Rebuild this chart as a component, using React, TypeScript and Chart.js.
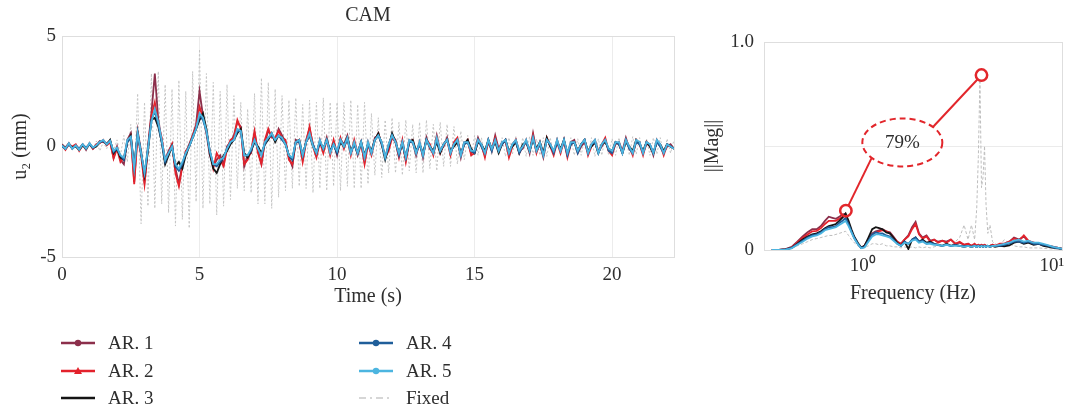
import React, { useEffect, useRef } from 'react';
import { Chart, registerables } from 'chart.js';
Chart.register(...registerables);

// ---------- time domain (sampled every TIME_STEP seconds) ----------
const TIME_STEP = 0.125;
const AR1 = [
  0.1,-0.05,0.15,-0.1,0.05,-0.1,0.1,-0.15,
  0.15,-0.1,0.05,0.25,0.2,0.15,0.25,-0.5,
  0.0,-0.6,-0.8,0.3,0.6,-1.6,0.7,-0.2,
  -1.6,0.0,1.5,3.3,1.2,0.3,-0.6,-0.2,
  0.1,-1.0,-1.7,-0.8,-0.3,0.1,0.5,1.0,
  2.5,1.4,0.6,-0.4,-0.9,-0.6,-0.4,-0.8,
  0.0,0.2,0.5,1.1,0.9,-0.9,-0.4,-0.3,
  0.6,-0.2,-0.8,0.2,0.7,0.5,0.3,0.8,
  0.5,0.2,-0.5,-0.9,0.3,0.2,-0.6,0.3,
  0.8,0.1,-0.4,0.3,-0.2,0.4,-0.3,0.2,
  -0.4,0.3,0.1,0.5,-0.3,0.2,-0.4,0.1,
  -0.7,0.2,-0.3,0.4,0.5,0.2,-0.5,0.1,
  0.5,0.3,-0.4,0.2,-0.6,0.3,0.2,-0.4,
  0.2,-0.5,0.4,-0.1,-0.3,0.5,-0.2,0.0,
  0.4,-0.3,0.1,0.3,-0.5,0.2,0.2,-0.3,
  -0.2,0.4,0.0,-0.4,0.2,-0.2,0.5,-0.1,
  0.2,0.2,-0.4,0.1,0.3,-0.2,-0.1,0.3,
  -0.3,0.6,-0.2,0.1,-0.5,0.3,0.1,-0.3,
  0.3,-0.2,0.2,-0.4,0.2,0.3,-0.3,0.0,
  0.2,-0.3,0.1,0.3,-0.2,0.0,0.3,-0.2,
  -0.3,0.1,0.2,-0.2,0.4,-0.1,-0.3,0.2,
  0.2,-0.3,0.1,0.1,-0.4,0.3,0.0,-0.3,
  0.0,0.1,-0.1
];
const AR2 = [
  0.05,-0.15,0.1,0.0,0.1,-0.2,0.05,-0.05,
  0.1,-0.1,0.1,0.15,0.3,0.05,0.2,-0.55,
  -0.1,-0.7,-0.5,0.2,0.5,-1.7,0.5,-0.4,
  -1.7,-0.1,1.4,2.0,1.0,0.4,-0.7,-0.3,
  0.1,-1.2,-1.8,-0.9,-0.2,0.0,0.5,0.9,
  1.8,1.3,0.7,-0.2,-1.0,-0.3,-0.6,-0.9,
  -0.1,0.3,0.4,1.2,0.8,-0.8,-0.6,-0.2,
  0.7,-0.3,-0.8,0.3,0.8,0.4,0.4,0.7,
  0.4,0.3,-0.6,-0.8,0.2,0.3,-0.7,0.2,
  0.9,0.0,-0.5,0.2,-0.3,0.3,-0.4,0.3,
  -0.3,0.4,-0.1,0.4,-0.4,0.3,-0.3,0.2,
  -0.8,0.1,-0.4,0.3,0.6,0.1,-0.5,-0.2,
  0.4,0.2,-0.5,0.3,-0.7,0.2,0.3,-0.3,
  0.1,-0.4,0.3,0.1,-0.4,0.4,-0.3,0.1,
  0.3,-0.4,0.2,0.4,-0.4,0.1,0.3,-0.4,
  -0.3,0.3,0.1,-0.5,0.3,-0.1,0.4,-0.2,
  0.1,0.3,-0.5,0.0,0.3,-0.3,0.0,0.2,
  -0.2,0.5,-0.3,0.2,-0.4,0.4,0.0,-0.4,
  0.2,-0.3,0.3,-0.5,0.1,0.2,-0.2,0.1,
  0.3,-0.4,0.0,0.2,-0.3,0.1,0.4,-0.2,
  -0.4,0.2,0.1,-0.3,0.3,0.0,-0.4,0.3,
  0.1,-0.4,0.2,0.0,-0.3,0.2,0.1,-0.4,
  0.1,0.0,-0.1
];
const AR3 = [
  0.05,-0.1,0.1,-0.05,0.0,-0.15,0.05,-0.1,
  0.1,-0.05,0.0,0.2,0.25,0.1,0.3,-0.3,
  -0.1,-0.5,-0.6,0.2,0.5,-0.9,0.6,-0.3,
  -1.3,-0.2,1.2,1.3,0.9,0.2,-0.8,-0.4,
  0.0,-0.9,-0.7,-1.0,-0.4,0.0,0.4,0.8,
  1.2,1.5,0.8,-0.3,-1.0,-1.2,-0.8,-0.4,
  -0.2,0.1,0.3,0.6,0.8,-0.3,-0.5,-0.2,
  0.2,0.0,-0.3,0.1,0.3,0.6,0.2,0.5,
  0.4,0.1,-0.4,-0.6,0.2,0.3,-0.4,0.2,
  0.5,0.0,-0.3,0.2,-0.1,0.3,-0.2,0.1,
  -0.3,0.2,0.0,0.4,-0.2,0.1,-0.3,0.2,
  -0.4,0.1,-0.2,0.3,0.6,0.1,-0.6,0.0,
  0.6,0.2,-0.3,0.1,-0.5,0.2,0.3,-0.2,
  0.1,-0.3,0.3,0.0,-0.2,0.2,-0.3,0.1,
  0.3,-0.2,0.0,0.2,-0.3,0.1,0.3,-0.1,
  -0.3,0.2,0.1,-0.2,0.3,-0.1,0.2,-0.3,
  0.1,0.3,-0.2,0.0,0.2,-0.3,0.1,0.2,
  -0.2,0.3,-0.1,0.2,-0.3,0.4,0.0,-0.2,
  0.2,-0.1,0.3,-0.3,0.1,0.2,-0.2,0.1,
  0.3,-0.2,0.0,0.2,-0.3,0.1,0.2,-0.1,
  -0.2,0.2,0.1,-0.3,0.2,0.0,-0.2,0.3,
  0.1,-0.2,0.2,0.0,-0.3,0.2,0.1,-0.2,
  0.1,0.0,-0.1
];
const AR4 = [
  0.0,-0.1,0.1,-0.1,0.05,-0.1,0.1,-0.05,
  0.1,-0.05,0.05,0.2,0.25,0.1,0.25,-0.25,
  -0.1,-0.4,-0.6,0.2,0.4,-0.9,0.6,-0.3,
  -1.2,-0.1,1.2,1.6,1.0,0.2,-0.7,-0.3,
  0.0,-0.9,-1.1,-0.8,-0.3,0.0,0.4,0.8,
  1.4,1.2,0.7,-0.2,-0.8,-0.9,-0.7,-0.5,
  -0.1,0.2,0.3,0.7,0.7,-0.4,-0.4,-0.2,
  0.3,-0.1,-0.4,0.1,0.4,0.5,0.3,0.5,
  0.3,0.1,-0.4,-0.6,0.2,0.2,-0.4,0.2,
  0.5,0.1,-0.3,0.2,-0.1,0.3,-0.2,0.1,
  -0.3,0.3,0.0,0.3,-0.3,0.1,-0.3,0.2,
  -0.5,0.1,-0.3,0.3,0.5,0.1,-0.5,0.0,
  0.5,0.2,-0.4,0.2,-0.5,0.2,0.2,-0.3,
  0.1,-0.4,0.3,0.0,-0.3,0.3,-0.2,0.1,
  0.3,-0.3,0.1,0.3,-0.4,0.1,0.2,-0.2,
  -0.3,0.3,0.0,-0.3,0.3,-0.2,0.3,-0.2,
  0.1,0.3,-0.3,0.1,0.2,-0.3,0.0,0.2,
  -0.2,0.4,-0.2,0.1,-0.4,0.3,0.1,-0.3,
  0.2,-0.2,0.3,-0.4,0.1,0.2,-0.3,0.1,
  0.3,-0.3,0.1,0.2,-0.3,0.1,0.3,-0.2,
  -0.3,0.2,0.1,-0.3,0.3,-0.1,-0.3,0.2,
  0.1,-0.3,0.2,0.1,-0.3,0.2,0.0,-0.3,
  0.1,0.0,-0.1
];
const AR5 = [
  0.05,-0.1,0.15,-0.1,0.05,-0.15,0.1,-0.1,
  0.15,-0.05,0.05,0.2,0.3,0.1,0.25,-0.2,
  -0.05,-0.4,-0.5,0.3,0.45,-1.0,0.6,-0.3,
  -1.2,-0.1,1.1,1.7,1.1,0.3,-0.6,-0.3,
  0.0,-0.8,-1.0,-0.7,-0.3,0.0,0.4,0.8,
  1.5,1.3,0.7,-0.2,-0.8,-0.8,-0.6,-0.5,
  -0.1,0.2,0.3,0.8,0.7,-0.4,-0.4,-0.1,
  0.3,-0.1,-0.4,0.2,0.4,0.6,0.3,0.5,
  0.4,0.1,-0.4,-0.5,0.2,0.3,-0.4,0.2,
  0.6,0.0,-0.3,0.3,-0.1,0.3,-0.3,0.1,
  -0.2,0.3,0.0,0.4,-0.3,0.2,-0.3,0.2,
  -0.5,0.2,-0.3,0.3,0.5,0.2,-0.5,0.1,
  0.5,0.2,-0.3,0.2,-0.5,0.3,0.2,-0.3,
  0.2,-0.4,0.3,0.0,-0.3,0.4,-0.2,0.1,
  0.3,-0.3,0.1,0.3,-0.4,0.2,0.2,-0.2,
  -0.2,0.3,0.1,-0.3,0.3,-0.1,0.3,-0.2,
  0.2,0.3,-0.3,0.1,0.3,-0.2,0.0,0.3,
  -0.2,0.4,-0.2,0.2,-0.4,0.3,0.1,-0.2,
  0.3,-0.2,0.3,-0.3,0.2,0.2,-0.2,0.1,
  0.3,-0.3,0.1,0.3,-0.3,0.1,0.3,-0.1,
  -0.2,0.2,0.2,-0.3,0.3,0.0,-0.3,0.3,
  0.2,-0.3,0.2,0.1,-0.3,0.3,0.1,-0.3,
  0.1,0.0,-0.1
];
const FIXED = [
  0.15,-0.1,0.2,-0.15,0.1,-0.2,0.15,-0.1,
  0.2,-0.15,0.25,-0.2,0.2,-0.1,0.3,-0.2,
  0.3,-0.4,0.5,-0.7,1.0,-1.5,2.4,-3.5,
  2.0,-2.7,3.3,-2.8,3.4,-2.6,2.8,-3.0,
  2.6,-3.6,3.0,-3.3,2.5,-3.7,3.4,-2.5,
  4.4,-2.8,3.3,-2.6,2.9,-3.1,2.5,-2.7,
  2.8,-2.4,2.3,-1.9,2.0,-2.0,1.7,-2.1,
  2.4,-2.6,3.1,-2.6,2.9,-2.8,2.6,-2.3,
  2.3,-2.0,2.1,-1.9,2.2,-1.8,1.9,-1.9,
  2.1,-2.1,2.0,-1.9,2.2,-2.0,2.0,-1.8,
  2.0,-2.0,2.0,-1.8,2.1,-1.9,1.9,-1.9,
  2.0,-1.7,1.5,-1.3,1.3,-1.4,1.2,-1.2,
  1.3,-1.2,1.1,-1.3,1.2,-1.1,1.0,-1.2,
  1.1,-1.2,1.2,-1.0,1.0,-1.1,1.1,-0.9,
  1.0,-0.9,0.9,-0.8,0.7,-0.6,0.5,-0.5,
  0.5,-0.4,0.4,-0.5,0.4,-0.4,0.5,-0.4,
  0.4,-0.45,0.4,-0.35,0.45,-0.4,0.4,-0.45,
  0.45,-0.4,0.35,-0.4,0.4,-0.45,0.4,-0.35,
  0.4,-0.4,0.45,-0.35,0.4,-0.4,0.35,-0.4,
  0.4,-0.35,0.4,-0.45,0.35,-0.4,0.4,-0.4,
  0.35,-0.4,0.4,-0.35,0.4,-0.4,0.45,-0.35,
  0.4,-0.4,0.35,-0.4,0.4,-0.35,0.4,-0.4,
  0.35,-0.3,0.3
];
const TIME = FIXED.map((_, i) => i * TIME_STEP);
const TIME_TICKS = [0, 5, 10, 15, 20];

// ---------- frequency domain ----------
const FREQ = [
  0.33,0.36,0.39,0.42,0.45,0.48,0.51,0.54,0.57,0.6,
  0.63,0.66,0.69,0.72,0.75,0.78,0.81,0.84,0.87,0.9,
  0.94,0.98,1.02,1.07,1.12,1.17,1.22,1.27,1.33,1.39,
  1.45,1.52,1.59,1.66,1.74,1.82,1.9,1.98,2.07,2.17,
  2.27,2.38,2.5,2.63,2.77,2.92,3.08,3.25,3.43,3.6,
  3.75,3.9,4.0,4.08,4.16,4.24,4.32,4.4,4.48,4.58,
  4.7,4.85,5.0,5.3,5.6,5.95,6.3,6.7,7.1,7.5,
  8.0,8.5,9.0,9.6,10.2,10.8,11.3
];
const MAG_AR1 = [
  0,0,0.004,0.015,0.04,0.065,0.085,0.1,0.1,0.115,
  0.14,0.16,0.155,0.15,0.16,0.17,0.175,0.13,0.09,0.06,
  0.03,0.01,0.02,0.05,0.08,0.09,0.095,0.1,0.09,0.085,
  0.065,0.04,0.03,0.05,0.07,0.11,0.135,0.08,0.06,0.07,
  0.045,0.05,0.04,0.045,0.04,0.05,0.03,0.035,0.025,0.03,
  0.02,0.025,0.02,0.025,0.02,0.025,0.02,0.025,0.02,0.02,
  0.02,0.025,0.02,0.025,0.03,0.04,0.06,0.05,0.065,0.04,
  0.035,0.03,0.025,0.02,0.015,0.01,0.006
];
const MAG_AR2 = [
  0,0,0.003,0.012,0.035,0.058,0.075,0.09,0.092,0.105,
  0.125,0.14,0.14,0.14,0.15,0.16,0.165,0.125,0.09,0.06,
  0.03,0.01,0.02,0.05,0.075,0.085,0.09,0.095,0.09,0.08,
  0.06,0.04,0.03,0.05,0.065,0.1,0.125,0.075,0.055,0.065,
  0.04,0.05,0.035,0.045,0.035,0.05,0.03,0.04,0.025,0.03,
  0.02,0.03,0.02,0.025,0.02,0.025,0.02,0.025,0.02,0.02,
  0.02,0.025,0.02,0.03,0.03,0.04,0.055,0.045,0.07,0.045,
  0.035,0.03,0.025,0.02,0.015,0.01,0.006
];
const MAG_AR3 = [
  0,0,0.003,0.01,0.03,0.05,0.065,0.075,0.08,0.09,
  0.105,0.115,0.12,0.125,0.14,0.155,0.175,0.14,0.1,0.065,
  0.035,0.012,0.02,0.06,0.1,0.11,0.105,0.1,0.085,0.08,
  0.06,0.035,0.02,0.04,0.005,0.05,0.06,0.04,0.05,0.035,
  0.04,0.03,0.025,0.02,0.03,0.02,0.025,0.02,0.015,0.02,
  0.015,0.02,0.015,0.02,0.015,0.02,0.015,0.02,0.015,0.02,
  0.015,0.02,0.015,0.02,0.018,0.022,0.035,0.04,0.03,0.035,
  0.025,0.03,0.02,0.015,0.01,0.008,0.005
];
const MAG_AR4 = [
  0,0,0.003,0.01,0.028,0.045,0.06,0.07,0.075,0.085,
  0.1,0.11,0.11,0.115,0.13,0.14,0.155,0.125,0.09,0.06,
  0.03,0.01,0.015,0.045,0.075,0.085,0.08,0.08,0.07,0.065,
  0.05,0.03,0.02,0.04,0.03,0.05,0.06,0.04,0.045,0.03,
  0.035,0.03,0.025,0.02,0.025,0.02,0.025,0.02,0.018,0.02,
  0.015,0.02,0.015,0.02,0.015,0.02,0.015,0.02,0.015,0.02,
  0.015,0.02,0.02,0.02,0.025,0.03,0.04,0.04,0.035,0.04,
  0.03,0.03,0.025,0.02,0.012,0.008,0.005
];
const MAG_AR5 = [
  0,0,0.002,0.008,0.025,0.04,0.055,0.065,0.07,0.08,
  0.095,0.1,0.105,0.11,0.12,0.13,0.14,0.115,0.085,0.055,
  0.028,0.008,0.012,0.04,0.065,0.075,0.075,0.07,0.065,0.06,
  0.045,0.03,0.02,0.035,0.03,0.045,0.05,0.035,0.04,0.03,
  0.03,0.025,0.025,0.02,0.025,0.02,0.02,0.02,0.015,0.02,
  0.015,0.02,0.015,0.02,0.015,0.02,0.015,0.02,0.015,0.02,
  0.015,0.02,0.02,0.025,0.03,0.035,0.045,0.05,0.04,0.045,
  0.035,0.035,0.03,0.022,0.015,0.01,0.006
];
const MAG_FIXED = [
  0,0,0.002,0.008,0.02,0.03,0.04,0.05,0.055,0.06,
  0.065,0.07,0.07,0.075,0.08,0.085,0.09,0.07,0.05,0.035,
  0.02,0.01,0.012,0.02,0.03,0.03,0.025,0.03,0.02,0.02,
  0.015,0.015,0.01,0.015,0.01,0.015,0.01,0.015,0.01,0.015,
  0.01,0.015,0.02,0.02,0.025,0.02,0.04,0.06,0.12,0.05,
  0.12,0.05,0.2,0.45,0.82,0.3,0.35,0.5,0.22,0.08,
  0.12,0.04,0.03,0.02,0.05,0.03,0.02,0.015,0.015,0.01,
  0.01,0.01,0.008,0.006,0.005,0.004,0.003
];
// annotation anchors (data coordinates: [Hz, |Mag|])
const PEAK_AR = [0.813, 0.189];
const PEAK_FIXED = [4.24, 0.841];
const RATIO_LABEL_AT = [1.617, 0.517];
const RATIO_LABEL = '79%';

const SERIES = [
  { label: 'AR. 1', color: '#8c2f4b', marker: 'circle', t: AR1, f: MAG_AR1, order: 5 },
  { label: 'AR. 2', color: '#e3222c', marker: 'triangle', t: AR2, f: MAG_AR2, order: 4 },
  { label: 'AR. 3', color: '#141414', marker: 'none', t: AR3, f: MAG_AR3, order: 3 },
  { label: 'AR. 4', color: '#1f5e9a', marker: 'circle', t: AR4, f: MAG_AR4, order: 2 },
  { label: 'AR. 5', color: '#4cb5e0', marker: 'circle', t: AR5, f: MAG_AR5, order: 1 },
];
const FIXED_STYLE = { label: 'Fixed', color: '#c4c4c4' };

const FONT = '"Liberation Serif", "Times New Roman", serif';
const TXT = '#2e2e2e';

const boxPlugin = {
  id: 'box',
  beforeDatasetsDraw(chart: any) {
    const { ctx, chartArea: a } = chart;
    ctx.save();
    ctx.strokeStyle = '#dedede';
    ctx.lineWidth = 1;
    ctx.strokeRect(Math.round(a.left) + 0.5, Math.round(a.top) + 0.5, Math.round(a.right - a.left), Math.round(a.bottom - a.top));
    ctx.restore();
  },
};

const legendPlugin = {
  id: 'customLegend',
  afterDraw(chart: any) {
    const { ctx } = chart;
    const items = [
      ...SERIES.map((s) => ({ label: s.label, color: s.color, marker: s.marker, dash: [] as number[], width: 2.5 })),
      { label: FIXED_STYLE.label, color: '#d6d6d6', marker: 'none', dash: [7, 4, 2, 4], width: 2 },
    ];
    const cols = [61, 359];
    const rows = [343, 371, 398];
    ctx.save();
    items.forEach((it, i) => {
      const x = cols[Math.floor(i / 3)];
      const y = rows[i % 3];
      ctx.strokeStyle = it.color;
      ctx.lineWidth = it.width;
      ctx.setLineDash(it.dash);
      ctx.beginPath();
      ctx.moveTo(x, y);
      ctx.lineTo(x + 34, y);
      ctx.stroke();
      ctx.setLineDash([]);
      ctx.fillStyle = it.color;
      const cx = x + 17;
      if (it.marker === 'circle') {
        ctx.beginPath();
        ctx.arc(cx, y, 3.2, 0, Math.PI * 2);
        ctx.fill();
      } else if (it.marker === 'triangle') {
        ctx.beginPath();
        ctx.moveTo(cx, y - 4);
        ctx.lineTo(cx + 4, y + 3);
        ctx.lineTo(cx - 4, y + 3);
        ctx.closePath();
        ctx.fill();
      }
      ctx.fillStyle = TXT;
      ctx.font = `19px ${FONT}`;
      ctx.textBaseline = 'middle';
      ctx.textAlign = 'left';
      ctx.fillText(it.label, x + 47, y + 1);
    });
    ctx.restore();
  },
};

const annotationPlugin = {
  id: 'ratioAnnotation',
  afterDatasetsDraw(chart: any) {
    const { ctx, scales } = chart;
    const xs = scales.x, ys = scales.y;
    const c1 = { x: xs.getPixelForValue(PEAK_AR[0]), y: ys.getPixelForValue(PEAK_AR[1]) };
    const c2 = { x: xs.getPixelForValue(PEAK_FIXED[0]), y: ys.getPixelForValue(PEAK_FIXED[1]) };
    const e = { x: xs.getPixelForValue(RATIO_LABEL_AT[0]), y: ys.getPixelForValue(RATIO_LABEL_AT[1]) };
    const rx = 40, ry = 24, r = 5.7;
    const ang1 = (140 * Math.PI) / 180, ang2 = (-40 * Math.PI) / 180;
    const a1 = { x: e.x + rx * Math.cos(ang1), y: e.y + ry * Math.sin(ang1) };
    const a2 = { x: e.x + rx * Math.cos(ang2), y: e.y + ry * Math.sin(ang2) };
    const red = '#e2262b';
    const seg = (from: any, to: any) => {
      const dx = to.x - from.x, dy = to.y - from.y;
      const len = Math.hypot(dx, dy);
      ctx.beginPath();
      ctx.moveTo(from.x + (dx / len) * r, from.y + (dy / len) * r);
      ctx.lineTo(to.x, to.y);
      ctx.stroke();
    };
    ctx.save();
    ctx.strokeStyle = red;
    ctx.lineWidth = 2;
    seg(c1, a1);
    seg(c2, a2);
    ctx.lineWidth = 2.5;
    [c1, c2].forEach((c) => {
      ctx.beginPath();
      ctx.arc(c.x, c.y, r, 0, Math.PI * 2);
      ctx.stroke();
    });
    ctx.lineWidth = 2;
    ctx.setLineDash([6, 4]);
    ctx.beginPath();
    ctx.ellipse(e.x, e.y, rx, ry, 0, 0, Math.PI * 2);
    ctx.stroke();
    ctx.setLineDash([]);
    ctx.fillStyle = TXT;
    ctx.font = `19px ${FONT}`;
    ctx.textAlign = 'center';
    ctx.textBaseline = 'middle';
    ctx.fillText(RATIO_LABEL, e.x, e.y + 1);
    ctx.restore();
  },
};

export default function App() {
  const leftRef = useRef<HTMLCanvasElement>(null);
  const rightRef = useRef<HTMLCanvasElement>(null);

  useEffect(() => {
    const tick = { family: FONT, size: 19 };
    const ttl = { family: FONT, size: 20 };

    const timeDatasets: any[] = SERIES.map((s) => ({
      label: s.label,
      data: TIME.map((t, i) => ({ x: t, y: s.t[i] })),
      borderColor: s.color,
      borderWidth: 1.8,
      pointRadius: 0,
      tension: 0,
      order: s.order,
    }));
    timeDatasets.push({
      label: FIXED_STYLE.label,
      data: TIME.map((t, i) => ({ x: t, y: FIXED[i] })),
      borderColor: FIXED_STYLE.color,
      borderWidth: 1,
      borderDash: [2, 2],
      pointRadius: 0,
      tension: 0,
      order: 10,
    });

    const left = new Chart(leftRef.current!, {
      type: 'line',
      data: { datasets: timeDatasets },
      options: {
        animation: false,
        responsive: false,
        devicePixelRatio: 1,
        layout: { padding: { left: 0, right: 26, top: 0, bottom: 108 } },
        plugins: {
          legend: { display: false },
          tooltip: { enabled: false },
          title: {
            display: true,
            text: 'CAM',
            fullSize: false,
            color: TXT,
            font: { family: FONT, size: 20, weight: 'normal' },
            padding: { top: 4, bottom: 8 },
          },
        },
        scales: {
          x: {
            type: 'linear',
            min: 0,
            max: 22.25,
            afterFit: (s: any) => { s.height = 52; },
            afterBuildTicks: (s: any) => { s.ticks = TIME_TICKS.map((v) => ({ value: v })); },
            ticks: { font: tick, color: TXT, padding: 7, maxRotation: 0, autoSkip: false },
            grid: { color: '#ececec', drawTicks: false },
            border: { display: false },
            title: { display: true, text: 'Time (s)', color: TXT, font: ttl, padding: { top: 0, bottom: 0 } },
          },
          y: {
            min: -5,
            max: 5,
            afterFit: (s: any) => { s.width = 62; },
            ticks: { stepSize: 5, font: tick, color: TXT, padding: 6 },
            grid: { display: false, drawTicks: false },
            border: { display: false },
            title: { display: true, text: 'u₂ (mm)', color: TXT, font: ttl, padding: { top: 9, bottom: 0 } },
          },
        },
      } as any,
      plugins: [boxPlugin, legendPlugin],
    });

    const freqDatasets: any[] = SERIES.map((s) => ({
      label: s.label,
      data: FREQ.map((f, i) => ({ x: f, y: s.f[i] })),
      borderColor: s.color,
      borderWidth: 1.8,
      pointRadius: 0,
      tension: 0,
      order: s.order,
    }));
    freqDatasets.push({
      label: FIXED_STYLE.label,
      data: FREQ.map((f, i) => ({ x: f, y: MAG_FIXED[i] })),
      borderColor: '#bdbdbd',
      borderWidth: 1,
      borderDash: [3, 2],
      pointRadius: 0,
      tension: 0,
      order: 10,
    });

    const right = new Chart(rightRef.current!, {
      type: 'line',
      data: { datasets: freqDatasets },
      options: {
        animation: false,
        responsive: false,
        devicePixelRatio: 1,
        layout: { padding: { left: 0, right: 12, top: 42, bottom: 4 } },
        plugins: { legend: { display: false }, tooltip: { enabled: false } },
        scales: {
          x: {
            type: 'logarithmic',
            min: 0.33,
            max: 11.3,
            afterFit: (s: any) => { s.height = 56; },
            afterBuildTicks: (s: any) => { s.ticks = [{ value: 1 }, { value: 10 }]; },
            ticks: {
              font: tick,
              color: TXT,
              padding: 5,
              maxRotation: 0,
              autoSkip: false,
              callback: (v: any) => (Math.abs(v - 1) < 1e-9 ? '10⁰' : Math.abs(v - 10) < 1e-9 ? '10¹' : ''),
            },
            grid: { display: false, drawTicks: false },
            border: { display: false },
            title: { display: true, text: 'Frequency (Hz)', color: TXT, font: ttl, padding: { top: 0, bottom: 0 } },
          },
          y: {
            min: 0,
            max: 1,
            afterFit: (s: any) => { s.width = 64; },
            ticks: {
              stepSize: 0.5,
              font: tick,
              color: TXT,
              padding: 10,
              callback: (v: any) => (v === 0 ? '0' : v === 1 ? '1.0' : ''),
            },
            grid: { drawTicks: false, color: (c: any) => (c.tick && c.tick.value === 0.5 ? '#ebebeb' : 'rgba(0,0,0,0)') },
            border: { display: false },
            title: { display: true, text: '||Mag||', color: TXT, font: ttl, padding: { top: 1, bottom: 0 } },
          },
        },
      } as any,
      plugins: [boxPlugin, annotationPlugin],
    });

    return () => {
      left.destroy();
      right.destroy();
    };
  }, []);

  return (
    <div style={{ position: 'absolute', left: 0, top: 0, width: 1074, height: 417, background: '#fff' }}>
      <canvas ref={leftRef} width={700} height={417} style={{ position: 'absolute', left: 0, top: 0 }} />
      <canvas ref={rightRef} width={374} height={310} style={{ position: 'absolute', left: 700, top: 0 }} />
    </div>
  );
}
